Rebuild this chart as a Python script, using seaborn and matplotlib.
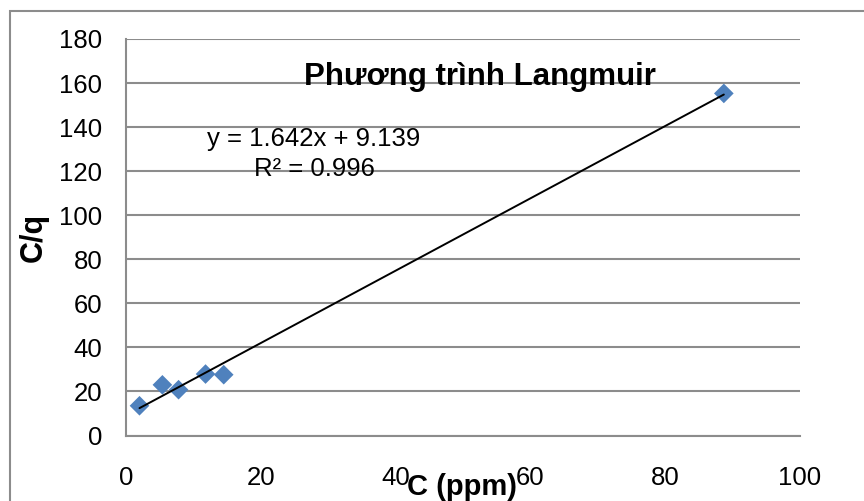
import matplotlib
matplotlib.use("Agg")
import matplotlib.pyplot as plt
import seaborn as sns
import pandas as pd
import numpy as np
from matplotlib.patches import Rectangle

# Langmuir linearisation: equilibrium concentration C vs C/q
c_ppm = [2.0, 5.4, 7.8, 11.8, 14.5, 88.7]
c_over_q = [13.5, 23.0, 20.8, 27.9, 27.6, 155.3]

slope = 1.642
intercept = 9.139
r_squared = 0.996

x_ticks = [0, 20, 40, 60, 80, 100]
y_ticks = [0, 20, 40, 60, 80, 100, 120, 140, 160, 180]

df = pd.DataFrame({"C (ppm)": c_ppm, "C/q": c_over_q})

sns.set_style("white")
plt.rcParams["font.family"] = ["Liberation Sans", "DejaVu Sans"]
plt.rcParams["text.color"] = "black"

W, H = 864, 501
fig = plt.figure(figsize=(W / 100, H / 100), dpi=100)
ax = fig.add_axes([126 / W, 1 - 435.5 / H, (800 - 126) / W, (435.5 - 39) / H])

grey = "#8c8c8c"

# chart-area frame
fig.patches.append(Rectangle((9.5 / W, -0.1), 1.2, 1.1 - 11 / H, transform=fig.transFigure,
                             fill=False, edgecolor=grey, linewidth=1.5, zorder=0))

sns.scatterplot(data=df, x="C (ppm)", y="C/q", marker="D", s=100, color="#4F81BD",
                edgecolor="none", linewidth=0, ax=ax, zorder=3)

# linear trendline over the data range
xs = np.array([min(c_ppm), max(c_ppm)])
ax.plot(xs, slope * xs + intercept, color="black", linewidth=1.4, zorder=4)

ax.set_xlim(0, 100)
ax.set_ylim(0, 180)
ax.set_xticks(x_ticks)
ax.set_yticks(y_ticks)
ax.set_xticklabels([str(t) for t in x_ticks])
ax.set_yticklabels([str(t) for t in y_ticks])
ax.yaxis.grid(True, color=grey, linewidth=1.5)
ax.xaxis.grid(False)
ax.set_axisbelow(True)

for side in ["top", "right"]:
    ax.spines[side].set_visible(False)
for side in ["left", "bottom"]:
    ax.spines[side].set_color(grey)
    ax.spines[side].set_linewidth(1.5)

ax.tick_params(axis="both", which="major", direction="out", length=5, width=1.2,
               color=grey, labelsize=18.5, labelcolor="black")
ax.tick_params(axis="x", pad=17)
ax.tick_params(axis="y", pad=12)
ax.set_xlabel("")
ax.set_ylabel("")

fig.text(479.5 / W, 1 - 85 / H, "Phương trình Langmuir", ha="center", va="baseline",
         fontsize=22.5, fontweight="bold", color="black")
fig.text(314 / W, 1 - 146 / H, f"y = {slope}x + {intercept}", ha="center", va="baseline",
         fontsize=18.5, color="black")
fig.text(314 / W, 1 - 176.5 / H, f"R² = {r_squared}", ha="center", va="baseline",
         fontsize=18.5, color="black")
fig.text(462 / W, 1 - 495 / H, "C (ppm)", ha="center", va="baseline",
         fontsize=21, fontweight="bold", color="black")
fig.text(34 / W, 1 - 237 / H, "C/q", ha="center", va="center", rotation=90,
         fontsize=22, fontweight="bold", color="black")

fig.savefig("out.png", dpi=100)
